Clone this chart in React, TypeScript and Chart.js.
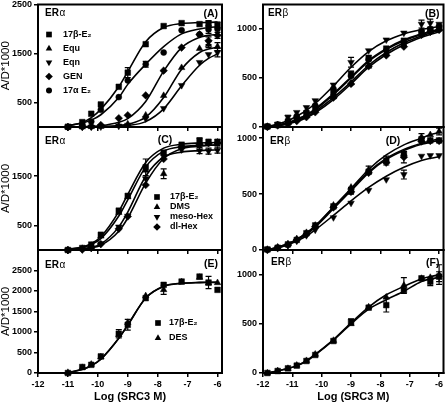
import React, { useEffect, useRef } from "react";
import { Chart, registerables } from "chart.js";

Chart.register(...registerables);

const FAMILY = "'Liberation Sans', Arial, Helvetica, sans-serif";

// ---------- x positions (log M) ----------
const X_LEFT = [-11, -10.52, -10.22, -9.9, -9.3, -9, -8.4, -7.8, -7.2, -6.6, -6.3, -6];
const X_RIGHT = [-11.85, -11.5, -11.15, -10.85, -10.52, -10.22, -9.6, -9, -8.4, -7.8, -7.2, -6.6, -6.3, -6];
const X_TICKS = [-12, -11, -10, -9, -8, -7, -6];

// ---------- Panel A (ERα) ----------
const A_E2 = [5, 100, 270, 460, 820, 1110, 1690, 2060, 2120, 2100, 2110, 2080];
const A_E2_FIT = [25, 90, 190, 360, 820, 1130, 1740, 2030, 2110, 2130, 2135, 2140];
const A_E2_ERR = [0, 0, 0, 0, 0, 100, 0, 0, 0, 0, 60, 60];
const A_EQU = [0, 0, 5, 10, 30, 60, 240, 640, 1210, 1600, 1680, 1640];
const A_EQU_FIT = [0, 2, 5, 10, 30, 55, 200, 600, 1180, 1520, 1590, 1630];
const A_EQU_ERR = [0, 0, 0, 0, 0, 0, 0, 0, 0, 0, 60, 80];
const A_EQN = [0, 0, 0, 5, 20, 40, 170, 380, 850, 1320, 1480, 1520];
const A_EQN_FIT = [0, 0, 2, 5, 15, 30, 110, 370, 840, 1260, 1400, 1490];
const A_EQN_ERR = [0, 0, 0, 0, 0, 0, 0, 0, 0, 0, 0, 90];
const A_GEN = [0, 5, 15, 40, 180, 240, 645, 1150, 1620, 1890, 1760, 1870];
const A_GEN_FIT = [2, 5, 12, 25, 95, 170, 520, 1140, 1620, 1830, 1870, 1890];
const A_GEN_ERR = [0, 0, 0, 0, 0, 0, 0, 0, 0, 0, 80, 60];
const A_A17 = [0, 40, 110, 350, 610, 950, 1280, 1520, 1975, 1890, 1990, 2000];
const A_A17_FIT = [30, 80, 140, 250, 600, 870, 1280, 1640, 1900, 2000, 2030, 2045];
const A_A17_ERR = [0, 0, 0, 0, 0, 0, 60, 0, 0, 0, 80, 0];

// ---------- Panel B (ERβ) ----------
const B_E2 = [5, 20, 50, 90, 140, 200, 360, 540, 700, 800, 880, 960, 990, 1010];
const B_E2_FIT = [5, 20, 45, 80, 125, 185, 340, 510, 680, 800, 890, 950, 975, 995];
const B_E2_ERR = [0, 0, 0, 0, 0, 0, 0, 30, 0, 0, 0, 0, 0, 0];
const B_EQU = [5, 20, 40, 80, 120, 170, 310, 450, 620, 750, 840, 950, 980, 1000];
const B_EQU_FIT = [3, 15, 35, 65, 105, 160, 300, 460, 630, 760, 860, 930, 960, 985];
const B_EQU_ERR = [0, 0, 0, 0, 0, 0, 20, 0, 0, 0, 0, 0, 0, 0];
const B_EQN = [5, 30, 100, 150, 200, 270, 430, 660, 780, 890, 960, 1050, 1060, 1050];
const B_EQN_FIT = [5, 30, 65, 110, 170, 240, 420, 610, 770, 880, 950, 995, 1010, 1025];
const B_EQN_ERR = [0, 0, 20, 0, 0, 0, 0, 50, 0, 0, 0, 40, 40, 0];
const B_GEN = [0, 15, 30, 60, 100, 150, 300, 440, 620, 730, 820, 940, 970, 990];
const B_GEN_FIT = [2, 12, 30, 55, 95, 145, 280, 440, 610, 740, 840, 915, 945, 970];
const B_GEN_ERR = [0, 0, 0, 0, 0, 0, 0, 0, 0, 0, 0, 0, 0, 0];
const B_A17 = [5, 25, 60, 110, 150, 220, 390, 520, 690, 780, 860, 980, 1000, 1030];
const B_A17_FIT = [4, 18, 42, 75, 120, 175, 330, 500, 670, 790, 880, 945, 970, 990];
const B_A17_ERR = [0, 0, 0, 0, 0, 0, 0, 0, 40, 0, 0, 0, 0, 0];

// ---------- Panel C (ERα) ----------
const C_E2 = [0, 40, 110, 310, 800, 1100, 1680, 1980, 2140, 2220, 2200, 2200];
const C_E2_FIT = [20, 60, 130, 270, 780, 1130, 1780, 2070, 2150, 2175, 2180, 2185];
const C_E2_ERR = [0, 0, 0, 0, 0, 0, 170, 0, 0, 60, 0, 0];
const C_DMS = [0, 30, 90, 280, 760, 1080, 1620, 1550, 2100, 2160, 2180, 2190];
const C_DMS_FIT = [15, 50, 110, 230, 690, 1020, 1690, 2010, 2100, 2125, 2130, 2135];
const C_DMS_ERR = [0, 0, 0, 0, 0, 0, 0, 100, 0, 0, 0, 0];
const C_MESO = [0, 10, 40, 130, 470, 690, 1450, 1900, 2040, 2020, 2010, 2030];
const C_MESO_FIT = [8, 25, 55, 120, 470, 770, 1500, 1890, 1990, 2020, 2030, 2035];
const C_MESO_ERR = [0, 0, 0, 0, 0, 0, 0, 0, 0, 60, 60, 60];
const C_DL = [0, 10, 40, 120, 430, 680, 1320, 1850, 2100, 2150, 2170, 2180];
const C_DL_FIT = [8, 20, 45, 95, 380, 650, 1360, 1860, 2060, 2110, 2125, 2140];
const C_DL_ERR = [0, 0, 0, 0, 0, 0, 0, 0, 0, 0, 0, 60];

// ---------- Panel D (ERβ) ----------
const D_E2 = [5, 20, 50, 90, 150, 220, 390, 530, 700, 800, 860, 990, 980, 980];
const D_E2_FIT = [0, 25, 55, 95, 150, 215, 380, 540, 700, 820, 900, 955, 975, 995];
const D_E2_ERR = [0, 0, 0, 0, 0, 0, 0, 30, 0, 40, 0, 0, 0, 0];
const D_DMS = [5, 25, 55, 100, 155, 220, 400, 560, 720, 800, 860, 1010, 1030, 1060];
const D_DMS_FIT = [0, 25, 55, 95, 150, 215, 385, 550, 720, 850, 940, 1000, 1030, 1050];
const D_DMS_ERR = [0, 0, 0, 0, 0, 0, 0, 0, 30, 0, 0, 30, 0, 30];
const D_MESO = [5, 15, 40, 80, 130, 180, 290, 420, 535, 630, 675, 840, 845, 845];
const D_MESO_FIT = [0, 20, 45, 80, 125, 180, 310, 440, 560, 660, 740, 800, 820, 835];
const D_MESO_ERR = [0, 0, 0, 0, 0, 0, 0, 0, 0, 0, 40, 0, 0, 0];
const D_DL = [0, 20, 45, 90, 140, 210, 380, 520, 690, 780, 830, 970, 975, 975];
const D_DL_FIT = [0, 20, 50, 90, 140, 205, 370, 530, 690, 810, 890, 945, 965, 980];
const D_DL_ERR = [0, 0, 0, 0, 0, 0, 0, 0, 0, 0, 50, 0, 0, 0];

// ---------- Panel E (ERα) ----------
const E_E2 = [0, 146, 200, 405, 957, 1176, 1826, 2150, 2230, 2352, 2206, 2028];
const E_E2_FIT = [10, 90, 180, 340, 850, 1170, 1830, 2110, 2185, 2205, 2208, 2210];
const E_E2_ERR = [0, 0, 0, 0, 100, 130, 0, 0, 0, 0, 150, 0];
const E_DES = [10, 130, 210, 390, 930, 1230, 1880, 2030, 2220, 2330, 2190, 2200];
const E_DES_FIT = [10, 85, 175, 335, 845, 1165, 1830, 2115, 2190, 2210, 2213, 2215];
const E_DES_ERR = [0, 0, 0, 0, 0, 0, 0, 110, 0, 0, 0, 0];

// ---------- Panel F (ERβ) ----------
const F_E2 = [0, 20, 47, 75, 122, 183, 325, 520, 664, 690, 843, 962, 928, 979];
const F_E2_FIT = [0, 20, 45, 75, 120, 185, 335, 500, 650, 745, 830, 930, 955, 972];
const F_E2_ERR = [0, 0, 0, 0, 0, 0, 0, 30, 0, 70, 0, 0, 40, 50];
const F_DES = [0, 22, 45, 78, 125, 190, 330, 500, 670, 770, 890, 960, 970, 1000];
const F_DES_FIT = [0, 20, 45, 75, 125, 190, 340, 510, 670, 795, 880, 955, 980, 998];
const F_DES_ERR = [0, 0, 0, 0, 0, 0, 0, 0, 0, 0, 80, 0, 0, 100];

// ---------- tick labels ----------
const A_YTICKS = [500, 1500, 2500];
const C_YTICKS = [500, 1500];
const E_YTICKS = [0, 500, 1000, 1500, 2000, 2500];
const R_YTICKS = [0, 500, 1000];

type Series = { label: string; style: string; rot: number; r: number; pts: number[]; fit: number[]; err: number[] };
type Panel = {
  box: [number, number, number, number];
  xs: number[];
  yMax: number;
  yTicks: number[];
  bottom: boolean;
  yTitle: boolean;
  receptor: string;
  recPos: [number, number];
  tag: string;
  tagPos: [number, number];
  tagAlign: CanvasTextAlign;
  legend: null | { mx: number; tx: number; y: number; dy: number };
  series: Series[];
};

const SQ = (label: string, pts: number[], fit: number[], err: number[]): Series => ({ label, style: "rect", rot: 0, r: 4, pts, fit, err });
const TU = (label: string, pts: number[], fit: number[], err: number[]): Series => ({ label, style: "triangle", rot: 0, r: 3.8, pts, fit, err });
const TD = (label: string, pts: number[], fit: number[], err: number[]): Series => ({ label, style: "triangle", rot: 180, r: 3.8, pts, fit, err });
const DI = (label: string, pts: number[], fit: number[], err: number[]): Series => ({ label, style: "rectRot", rot: 0, r: 3.8, pts, fit, err });
const CI = (label: string, pts: number[], fit: number[], err: number[]): Series => ({ label, style: "circle", rot: 0, r: 3, pts, fit, err });

const PANELS: Panel[] = [
  {
    box: [38, 3, 222, 127], xs: X_LEFT, yMax: 2500, yTicks: A_YTICKS, bottom: false, yTitle: true,
    receptor: "ERα", recPos: [7, 9], tag: "(A)", tagPos: [-4, 10], tagAlign: "right",
    legend: { mx: 11, tx: 25, y: 30, dy: 14 },
    series: [
      SQ("17β-E₂", A_E2, A_E2_FIT, A_E2_ERR),
      TU("Equ", A_EQU, A_EQU_FIT, A_EQU_ERR),
      TD("Eqn", A_EQN, A_EQN_FIT, A_EQN_ERR),
      DI("GEN", A_GEN, A_GEN_FIT, A_GEN_ERR),
      CI("17α E₂", A_A17, A_A17_FIT, A_A17_ERR),
    ],
  },
  {
    box: [263, 3, 446, 127], xs: X_RIGHT, yMax: 1250, yTicks: R_YTICKS, bottom: false, yTitle: false,
    receptor: "ERβ", recPos: [5, 9], tag: "(B)", tagPos: [-4, 10], tagAlign: "right",
    legend: null,
    series: [
      SQ("17β-E₂", B_E2, B_E2_FIT, B_E2_ERR),
      TU("Equ", B_EQU, B_EQU_FIT, B_EQU_ERR),
      TD("Eqn", B_EQN, B_EQN_FIT, B_EQN_ERR),
      DI("GEN", B_GEN, B_GEN_FIT, B_GEN_ERR),
      CI("17α E₂", B_A17, B_A17_FIT, B_A17_ERR),
    ],
  },
  {
    box: [38, 127, 222, 250], xs: X_LEFT, yMax: 2500, yTicks: C_YTICKS, bottom: false, yTitle: true,
    receptor: "ERα", recPos: [7, 14.5], tag: "(C)", tagPos: [127, 13], tagAlign: "center",
    legend: { mx: 119, tx: 132, y: 70, dy: 10 },
    series: [
      SQ("17β-E₂", C_E2, C_E2_FIT, C_E2_ERR),
      TU("DMS", C_DMS, C_DMS_FIT, C_DMS_ERR),
      TD("meso-Hex", C_MESO, C_MESO_FIT, C_MESO_ERR),
      DI("dl-Hex", C_DL, C_DL_FIT, C_DL_ERR),
    ],
  },
  {
    box: [263, 127, 446, 250], xs: X_RIGHT, yMax: 1100, yTicks: R_YTICKS, bottom: false, yTitle: false,
    receptor: "ERβ", recPos: [7, 14], tag: "(D)", tagPos: [130, 14], tagAlign: "center",
    legend: null,
    series: [
      SQ("17β-E₂", D_E2, D_E2_FIT, D_E2_ERR),
      TU("DMS", D_DMS, D_DMS_FIT, D_DMS_ERR),
      TD("meso-Hex", D_MESO, D_MESO_FIT, D_MESO_ERR),
      DI("dl-Hex", D_DL, D_DL_FIT, D_DL_ERR),
    ],
  },
  {
    box: [38, 250, 222, 373], xs: X_LEFT, yMax: 3000, yTicks: E_YTICKS, bottom: true, yTitle: true,
    receptor: "ERα", recPos: [7, 15], tag: "(E)", tagPos: [-4, 14], tagAlign: "right",
    legend: { mx: 120, tx: 131, y: 73, dy: 15 },
    series: [
      SQ("17β-E₂", E_E2, E_E2_FIT, E_E2_ERR),
      TU("DES", E_DES, E_DES_FIT, E_DES_ERR),
    ],
  },
  {
    box: [263, 250, 446, 373], xs: X_RIGHT, yMax: 1250, yTicks: R_YTICKS, bottom: true, yTitle: false,
    receptor: "ERβ", recPos: [8, 12.5], tag: "(F)", tagPos: [-4, 13], tagAlign: "right",
    legend: null,
    series: [
      SQ("17β-E₂", F_E2, F_E2_FIT, F_E2_ERR),
      TU("DES", F_DES, F_DES_FIT, F_DES_ERR),
    ],
  },
];

function drawMarker(ctx: CanvasRenderingContext2D, style: string, rot: number, r: number, x: number, y: number) {
  ctx.beginPath();
  if (style === "rect") {
    const h = r * Math.SQRT1_2;
    ctx.rect(x - h, y - h, 2 * h, 2 * h);
  } else if (style === "rectRot") {
    ctx.moveTo(x, y - r); ctx.lineTo(x + r, y); ctx.lineTo(x, y + r); ctx.lineTo(x - r, y); ctx.closePath();
  } else if (style === "triangle") {
    const s = rot ? -1 : 1;
    ctx.moveTo(x, y - s * r);
    ctx.lineTo(x + r * 0.866, y + s * r * 0.5);
    ctx.lineTo(x - r * 0.866, y + s * r * 0.5);
    ctx.closePath();
  } else {
    ctx.arc(x, y, r, 0, Math.PI * 2);
  }
  ctx.fill();
}

function makeDeco(p: Panel) {
  return {
    id: "deco",
    afterDatasetsDraw(chart: any) {
      const { ctx, chartArea: ca, scales } = chart;
      const xs = scales.x, ys = scales.y;
      ctx.save();
      ctx.strokeStyle = "#000";
      ctx.fillStyle = "#000";
      // error bars
      ctx.lineWidth = 1.2;
      p.series.forEach((s) => {
        s.err.forEach((e, i) => {
          if (!e) return;
          const x = xs.getPixelForValue(p.xs[i]);
          const y1 = ys.getPixelForValue(s.pts[i] - e);
          const y2 = ys.getPixelForValue(s.pts[i] + e);
          ctx.beginPath();
          ctx.moveTo(x, y1); ctx.lineTo(x, y2);
          ctx.moveTo(x - 3, y1); ctx.lineTo(x + 3, y1);
          ctx.moveTo(x - 3, y2); ctx.lineTo(x + 3, y2);
          ctx.stroke();
        });
      });
      // frame
      ctx.lineWidth = 2;
      ctx.strokeRect(ca.left, ca.top, ca.right - ca.left, ca.bottom - ca.top);
      // receptor label
      ctx.textBaseline = "middle";
      ctx.textAlign = "left";
      const rx = ca.left + p.recPos[0], ry = ca.top + p.recPos[1];
      ctx.font = `bold 10px ${FAMILY}`;
      ctx.fillText(p.receptor.slice(0, 2), rx, ry);
      const w = ctx.measureText(p.receptor.slice(0, 2)).width;
      ctx.font = `10px ${FAMILY}`;
      ctx.fillText(p.receptor.slice(2), rx + w + 0.5, ry);
      // tag
      ctx.font = `bold 10.5px ${FAMILY}`;
      ctx.textAlign = p.tagAlign;
      const tx = p.tagAlign === "right" ? ca.right + p.tagPos[0] : ca.left + p.tagPos[0];
      ctx.fillText(p.tag, tx, ca.top + p.tagPos[1]);
      // legend
      if (p.legend) {
        const L = p.legend;
        ctx.textAlign = "left";
        ctx.font = `bold 9px ${FAMILY}`;
        p.series.forEach((s, i) => {
          const y = ca.top + L.y + i * L.dy;
          drawMarker(ctx, s.style, s.rot, s.r, ca.left + L.mx, y);
          ctx.fillText(s.label, ca.left + L.tx, y);
        });
      }
      ctx.restore();
    },
  };
}

function makeConfig(p: Panel): any {
  const datasets: any[] = [];
  p.series.forEach((s) => {
    datasets.push({
      label: s.label + " fit",
      data: p.xs.map((x, i) => ({ x, y: s.fit[i] })),
      showLine: true,
      borderColor: "#000",
      borderWidth: 1.6,
      pointRadius: 0,
      fill: false,
      cubicInterpolationMode: "monotone",
      clip: false,
      order: 2,
    });
  });
  p.series.forEach((s) => {
    datasets.push({
      label: s.label,
      data: p.xs.map((x, i) => ({ x, y: s.pts[i] })),
      showLine: false,
      pointStyle: s.style,
      pointRotation: s.rot,
      pointRadius: s.r,
      pointBackgroundColor: "#000",
      pointBorderColor: "#000",
      pointBorderWidth: 0.5,
      clip: false,
      order: 1,
    });
  });
  const xH = p.bottom ? 29 : 4;
  const [l, t, r, b] = p.box;
  const tickFont = { family: FAMILY, size: 9, weight: "bold" };
  const plain = (v: any) => String(v);
  return {
    type: "scatter",
    data: { datasets },
    options: {
      responsive: false,
      animation: false,
      events: [],
      devicePixelRatio: 1,
      layout: { padding: { left: l - 38, top: t, right: 448 - r, bottom: 403 - b - xH } },
      plugins: { legend: { display: false }, tooltip: { enabled: false }, title: { display: false } },
      scales: {
        x: {
          type: "linear",
          min: -12,
          max: -5.85,
          afterBuildTicks: (s: any) => { s.ticks = X_TICKS.map((v) => ({ value: v })); },
          afterFit: (s: any) => { s.height = xH; s.paddingLeft = 0; s.paddingRight = 0; s.paddingTop = 0; s.paddingBottom = 0; },
          ticks: { display: p.bottom, font: tickFont, color: "#000", padding: 2, maxRotation: 0, autoSkip: false, callback: plain },
          grid: { drawOnChartArea: false, drawTicks: true, tickLength: 4, color: "#000", lineWidth: 1.5 },
          border: { display: true, color: "#000", width: 2 },
          title: { display: p.bottom, text: "Log (SRC3 M)", color: "#000", padding: 0, font: { family: FAMILY, size: 11, weight: "bold", lineHeight: 1 } },
        },
        y: {
          type: "linear",
          min: 0,
          max: p.yMax,
          afterBuildTicks: (s: any) => { s.ticks = p.yTicks.map((v) => ({ value: v })); },
          afterFit: (s: any) => { s.width = 38; s.paddingTop = 0; s.paddingBottom = 0; s.paddingLeft = 0; s.paddingRight = 0; },
          ticks: { font: tickFont, color: "#000", padding: 2, callback: plain },
          grid: { drawOnChartArea: false, drawTicks: true, tickLength: 4, color: "#000", lineWidth: 1.5 },
          border: { display: true, color: "#000", width: 2 },
          title: { display: p.yTitle, text: "A/D*1000", color: "#000", padding: 0, font: { family: FAMILY, size: 11.5, lineHeight: 1 } },
        },
      },
    },
    plugins: [makeDeco(p)],
  };
}

function PanelCanvas({ panel }: { panel: Panel }) {
  const ref = useRef<HTMLCanvasElement | null>(null);
  useEffect(() => {
    if (!ref.current) return;
    const chart = new Chart(ref.current, makeConfig(panel));
    return () => chart.destroy();
  }, [panel]);
  return <canvas ref={ref} width={448} height={403} style={{ position: "absolute", left: 0, top: 0, width: 448, height: 403 }} />;
}

export default function App() {
  return (
    <div style={{ position: "fixed", left: 0, top: 0, width: 448, height: 403, background: "#fff", overflow: "hidden" }}>
      {PANELS.map((p, i) => (
        <PanelCanvas key={i} panel={p} />
      ))}
    </div>
  );
}
